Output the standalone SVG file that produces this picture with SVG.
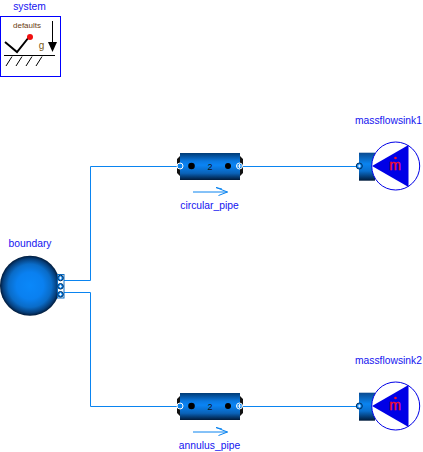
<svg xmlns="http://www.w3.org/2000/svg" width="423" height="452" viewBox="0 0 423 452">
<style>
text{font-family:"Liberation Sans",Arial,sans-serif}
.lbl{font-size:10.3px;fill:#1414f0;text-anchor:middle}
.conn{fill:none;stroke:#0a84f0;stroke-width:1}
.hl{fill:none;stroke:#0a84f0;stroke-width:1}
.plus{stroke:#fff;stroke-width:.9;fill:none}
</style>
<defs>
<linearGradient id="pg" x1="0" y1="0" x2="0" y2="1">
<stop offset="0" stop-color="#003a75"/><stop offset=".3" stop-color="#0a78e0"/><stop offset=".45" stop-color="#0a84f5"/><stop offset=".75" stop-color="#0a62b8"/><stop offset="1" stop-color="#001a3a"/>
</linearGradient>
<linearGradient id="sg" x1="0" y1="0" x2="0" y2="1">
<stop offset="0" stop-color="#0a4a90"/><stop offset=".4" stop-color="#0a84f0"/><stop offset=".65" stop-color="#0a70d0"/><stop offset="1" stop-color="#001a3a"/>
</linearGradient>
<radialGradient id="bg" cx=".5" cy=".5" r=".5">
<stop offset="0" stop-color="#0a88fa"/><stop offset=".45" stop-color="#0a80f0"/><stop offset=".72" stop-color="#0a6cc8"/><stop offset=".9" stop-color="#063f7c"/><stop offset="1" stop-color="#001a3a"/>
</radialGradient>
<g id="pipe">
<rect x="180" y="153" width="60" height="27" fill="url(#pg)"/>
<path d="M180 156l-3 3v14l3 3zM240 156l3 3v14l-3 3z" fill="#111"/>
<circle cx="191.500" cy="166" r="3.300" fill="#000"/>
<circle cx="228" cy="166" r="3" fill="#000"/>
<text x="210" y="169.500" font-size="9" text-anchor="middle" fill="#111">2</text>
<circle cx="180" cy="166" r="3" fill="#0a84f0" stroke="#fff" stroke-width="1"/>
<circle cx="239.500" cy="166" r="3" fill="#0a84f0" stroke="#fff" stroke-width="1"/>
<path d="M237.500 166h4M239.500 164v4" class="plus"/>
<path d="M193 192h34.500M216 187.500l11.500 4.500-9 3.500M216 187.500l6 1.500" class="hl"/>
</g>
<g id="sink">
<rect x="359" y="152.700" width="16" height="28" fill="url(#sg)"/>
<circle cx="395.700" cy="166" r="24" fill="#fff" stroke="#0000e6" stroke-width="1"/>
<path d="M372 166L408.500 145V187Z" fill="#0000e6"/>
<text x="395" y="170" font-size="14" text-anchor="middle" fill="#f01030" stroke="#f01030" stroke-width=".4">m</text>
<circle cx="395.500" cy="158" r="1.300" fill="#f01030"/>
<circle cx="359.300" cy="166" r="3" fill="#0a84f0" stroke="#00305f" stroke-width="1"/>
<path d="M357.800 166h3M359.300 164.500v3" class="plus"/>
</g>
</defs>

<g id="connectors">
<path class="conn" d="M64 280.500H90.500V166.500H180"/>
<path class="conn" d="M64 292.500H90.500V406.500H180"/>
<path class="conn" d="M240 166.500H359"/>
<path class="conn" d="M240 406.500H359"/>
</g>

<g id="system">
<rect x=".5" y="16.500" width="60" height="60" fill="#fff" stroke="#0000ff" stroke-width="1"/>
<text class="lbl" x="29.500" y="10">system</text>
<text x="27" y="28" font-size="8" text-anchor="middle" fill="#6a3c10">defaults</text>
<path d="M5 42L17 52L29 37" fill="none" stroke="#000" stroke-width="2"/>
<circle cx="30" cy="37" r="3" fill="#f01010"/>
<path d="M4 55.500H55M12 56.500L6 66M22 56.500L16 66M32 56.500L26 66M42 56.500L36 66" fill="none" stroke="#000" stroke-width="1"/>
<text x="41.500" y="49" font-size="10" text-anchor="middle" fill="#7a5a20">g</text>
<path d="M52.500 21V43" stroke="#000" stroke-width="1"/>
<path d="M48 42H57L52.500 52Z" fill="#000"/>
</g>

<g id="boundary">
<text class="lbl" x="30" y="246.500">boundary</text>
<circle cx="30" cy="285.700" r="30" fill="url(#bg)"/>
<rect x="57.500" y="274.500" width="6.500" height="23.500" fill="#fff" stroke="#0a6cc4"/>
<circle cx="60.500" cy="278" r="2.800" fill="#0a84f0" stroke="#00305f"/>
<circle cx="60.500" cy="286.300" r="2.800" fill="#0a84f0" stroke="#00305f"/>
<circle cx="60.500" cy="294.300" r="2.800" fill="#0a84f0" stroke="#00305f"/>
<path class="plus" d="M59 278h3M60.500 276.500v3M59 286.300h3M60.500 284.800v3M59 294.300h3M60.500 292.800v3"/>
</g>

<g id="circular_pipe">
<use href="#pipe"/>
<text class="lbl" x="209.500" y="209">circular_pipe</text>
</g>

<g id="annulus_pipe">
<use href="#pipe" y="240"/>
<text class="lbl" x="209.500" y="449">annulus_pipe</text>
</g>

<g id="massflowsink1">
<text class="lbl" x="388.500" y="124">massflowsink1</text>
<use href="#sink"/>
</g>

<g id="massflowsink2">
<text class="lbl" x="388.500" y="364">massflowsink2</text>
<use href="#sink" y="240"/>
</g>
</svg>
